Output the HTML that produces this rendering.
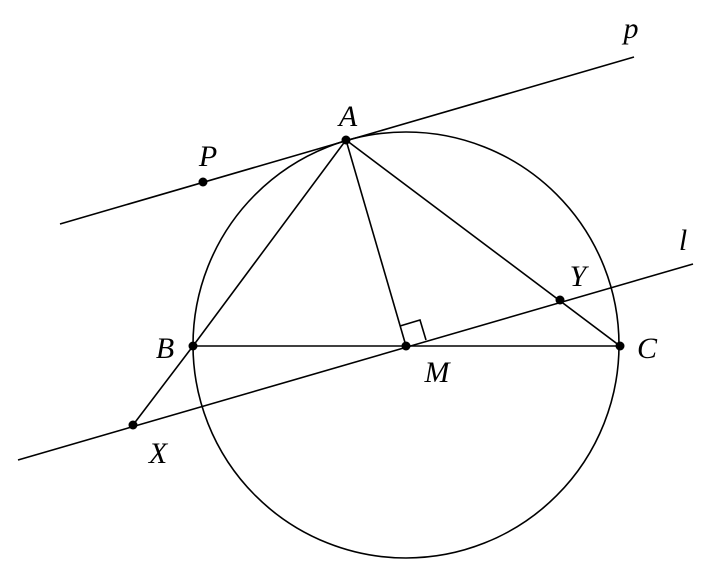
<!DOCTYPE html>
<html><head><style>body{margin:0;background:#fff}svg{display:block}</style></head><body>
<svg width="711" height="568" xmlns="http://www.w3.org/2000/svg">
<g fill="none" stroke="#000" stroke-width="1.6">
<circle cx="406" cy="345" r="213"/>
<line x1="60" y1="224" x2="634" y2="57"/>
<line x1="18" y1="460" x2="693" y2="264"/>
<polyline points="133,425 193,346 346,140 620,346 193,346"/>
<line x1="346" y1="140" x2="406" y2="346"/>
<polyline points="400,326 420,320 426,340"/>
</g>
<g fill="#000">
<circle cx="346" cy="140" r="4.5"/><circle cx="203" cy="182" r="4.5"/>
<circle cx="193" cy="346" r="4.5"/><circle cx="406" cy="346" r="4.5"/>
<circle cx="620" cy="346" r="4.5"/><circle cx="560" cy="300" r="4.5"/>
<circle cx="133" cy="425" r="4.5"/>
</g>
<g font-family="Liberation Serif, serif" font-style="italic" font-size="30" text-anchor="middle">
<text x="631" y="38">p</text>
<text x="348" y="126">A</text>
<text x="208" y="166">P</text>
<text x="683" y="250">l</text>
<text x="578" y="286">Y</text>
<text x="165" y="358">B</text>
<text x="437" y="382">M</text>
<text x="647" y="358">C</text>
<text x="158" y="463">X</text>
</g>
</svg>
</body></html>
